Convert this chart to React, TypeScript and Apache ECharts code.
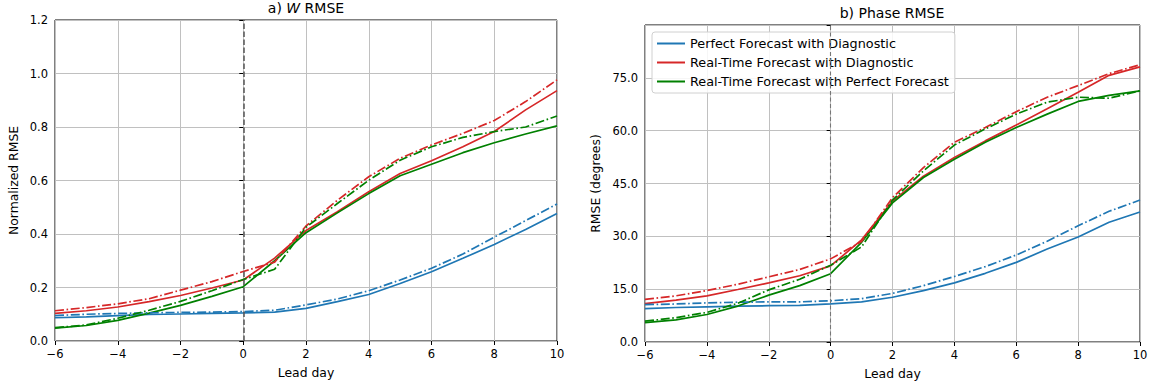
import React, { useEffect, useRef } from "react";
import * as echarts from "echarts";

const days = [-6, -5, -4, -3, -2, -1, 0, 1, 2, 3, 4, 5, 6, 7, 8, 9, 10];

const seriesNames = [
  "Perfect Forecast with Diagnostic",
  "Real-Time Forecast with Diagnostic",
  "Real-Time Forecast with Perfect Forecast",
];

// a) W RMSE (normalized)
const wBlueSolid = [0.087, 0.09, 0.095, 0.099, 0.101, 0.103, 0.105, 0.108, 0.122, 0.147, 0.174, 0.215, 0.259, 0.309, 0.361, 0.417, 0.477];
const wBlueDash = [0.095, 0.1, 0.103, 0.105, 0.107, 0.108, 0.11, 0.115, 0.135, 0.157, 0.188, 0.228, 0.272, 0.325, 0.388, 0.45, 0.512];
const wRedSolid = [0.103, 0.113, 0.127, 0.147, 0.17, 0.198, 0.228, 0.31, 0.413, 0.483, 0.558, 0.626, 0.674, 0.726, 0.783, 0.864, 0.936];
const wRedDash = [0.113, 0.125, 0.139, 0.158, 0.19, 0.222, 0.26, 0.295, 0.43, 0.526, 0.614, 0.683, 0.733, 0.776, 0.824, 0.895, 0.976];
const wGreenSolid = [0.048, 0.058, 0.077, 0.104, 0.133, 0.167, 0.203, 0.3, 0.405, 0.479, 0.551, 0.618, 0.661, 0.704, 0.741, 0.774, 0.804];
const wGreenDash = [0.05, 0.06, 0.085, 0.115, 0.148, 0.188, 0.23, 0.268, 0.425, 0.514, 0.601, 0.676, 0.726, 0.761, 0.783, 0.8, 0.841];

// b) Phase RMSE (degrees)
const pBlueSolid = [9.5, 9.8, 10.0, 10.2, 10.3, 10.4, 10.8, 11.4, 12.7, 14.6, 16.8, 19.5, 22.6, 26.4, 29.8, 34.0, 36.9];
const pBlueDash = [10.6, 10.8, 11.1, 11.3, 11.4, 11.4, 11.7, 12.3, 13.8, 16.0, 18.6, 21.4, 24.7, 28.6, 33.0, 37.1, 40.3];
const pRedSolid = [10.9, 11.9, 13.1, 14.9, 16.8, 18.8, 21.6, 29.0, 40.0, 47.1, 52.4, 57.1, 61.6, 66.2, 70.9, 75.7, 78.1];
const pRedDash = [12.1, 13.1, 14.6, 16.4, 18.5, 20.6, 23.6, 28.5, 41.0, 49.5, 56.7, 60.9, 65.4, 69.5, 72.8, 76.2, 78.7];
const pGreenSolid = [5.5, 6.3, 7.8, 10.2, 13.3, 16.0, 19.4, 28.3, 39.5, 46.7, 51.9, 56.7, 60.9, 64.7, 68.3, 70.0, 71.3];
const pGreenDash = [5.9, 6.9, 8.4, 11.0, 14.8, 17.8, 21.8, 27.0, 40.3, 48.6, 55.9, 60.5, 64.7, 68.1, 69.5, 69.2, 71.3];

const COLORS = ["#1f77b4", "#d62728", "#008000"];
const FONT = "DejaVu Sans";
const DASHDOT = [9, 2.6, 1.6, 2.6];
const TICK_FS = 11.5;
const LABEL_FS = 12.4;

function pairs(ys: number[]) {
  return days.map((d, i) => [d, ys[i]]);
}

function fmtX(v: number) {
  return v < 0 ? "\u2212" + Math.abs(v) : String(v);
}

export default function App() {
  const ref = useRef<HTMLDivElement>(null);

  useEffect(() => {
    if (!ref.current) return;
    const chart = echarts.init(ref.current, undefined, { renderer: "svg" });

    const mkLine = (
      name: string,
      ys: number[],
      color: string,
      dash: boolean,
      gi: number,
      withVLine: boolean
    ) => {
      const s: any = {
        type: "line",
        name,
        xAxisIndex: gi,
        yAxisIndex: gi,
        data: pairs(ys),
        symbol: "none",
        showSymbol: false,
        lineStyle: { color, width: 1.7, type: dash ? DASHDOT : "solid" },
        itemStyle: { color },
        z: dash ? 3 : 2,
      };
      if (withVLine) {
        s.markLine = {
          silent: true,
          symbol: ["none", "none"],
          label: { show: false },
          lineStyle: {
            color: gi === 0 ? "#555" : "#777",
            width: gi === 0 ? 1.5 : 1.1,
            type: gi === 0 ? [5.5, 2.5] : [4, 2.5],
          },
          data: [{ xAxis: 0 }],
        };
      }
      return s;
    };

    const xAxisBase = (gi: number) => ({
      type: "value",
      gridIndex: gi,
      min: -6,
      max: 10,
      interval: 2,
      name: "Lead day",
      nameLocation: "middle",
      nameGap: 25,
      nameTextStyle: { fontFamily: FONT, fontSize: LABEL_FS, color: "#000" },
      axisLine: { show: false },
      axisTick: { show: true, length: 4, lineStyle: { color: "#000", width: 1 } },
      axisLabel: {
        fontFamily: FONT,
        fontSize: TICK_FS,
        color: "#000",
        margin: 7,
        formatter: (v: number) => fmtX(v),
      },
      splitLine: { show: true, lineStyle: { color: "#c0c0c0", width: 1 } },
    });

    const option: any = {
      animation: false,
      textStyle: { fontFamily: FONT },
      grid: [
        { left: 55, right: 594, top: 20, bottom: 45, show: true, borderColor: "#000", borderWidth: 1, backgroundColor: "transparent" },
        { left: 645, right: 11, top: 25, bottom: 44, show: true, borderColor: "#000", borderWidth: 1, backgroundColor: "transparent" },
      ],
      xAxis: [xAxisBase(0), xAxisBase(1)],
      yAxis: [
        {
          type: "value",
          gridIndex: 0,
          min: 0,
          max: 1.2,
          interval: 0.2,
          name: "Normalized RMSE",
          nameLocation: "middle",
          nameGap: 36,
          nameTextStyle: { fontFamily: FONT, fontSize: LABEL_FS, color: "#000" },
          axisLine: { show: false },
          axisTick: { show: true, length: 4, lineStyle: { color: "#000", width: 1 } },
          axisLabel: { fontFamily: FONT, fontSize: TICK_FS, color: "#000", margin: 7, formatter: (v: number) => v.toFixed(1) },
          splitLine: { show: true, lineStyle: { color: "#c0c0c0", width: 1 } },
        },
        {
          type: "value",
          gridIndex: 1,
          min: 0,
          max: 90,
          interval: 15,
          name: "RMSE (degrees)",
          nameLocation: "middle",
          nameGap: 44,
          nameTextStyle: { fontFamily: FONT, fontSize: LABEL_FS, color: "#000" },
          axisLine: { show: false },
          axisTick: { show: true, length: 4, lineStyle: { color: "#000", width: 1 } },
          axisLabel: {
            fontFamily: FONT,
            fontSize: TICK_FS,
            color: "#000",
            margin: 7,
            formatter: (v: number) => (v >= 89 ? "" : v.toFixed(1)),
          },
          splitLine: { show: true, lineStyle: { color: "#c0c0c0", width: 1 } },
        },
      ],
      legend: {
        data: seriesNames,
        orient: "vertical",
        left: 652,
        top: 32,
        icon: "rect",
        itemWidth: 28,
        itemHeight: 2,
        itemGap: 4,
        padding: [4, 6, 4, 5],
        backgroundColor: "rgba(255,255,255,0.85)",
        borderColor: "#d0d0d0",
        borderWidth: 1,
        borderRadius: 3,
        textStyle: { fontFamily: FONT, fontSize: 12.8, color: "#000", lineHeight: 15 },
        selectedMode: false,
      },
      graphic: [
        {
          type: "text",
          x: 306,
          y: 8,
          style: {
            text: "{a|a) }{i|W}{a| RMSE}",
            align: "center",
            verticalAlign: "middle",
            rich: {
              a: { fontFamily: FONT, fontSize: 14, fill: "#000" },
              i: { fontFamily: FONT, fontSize: 14, fontStyle: "italic", fill: "#000" },
            },
          },
        },
        {
          type: "text",
          x: 892,
          y: 13,
          style: {
            text: "b) Phase RMSE",
            align: "center",
            verticalAlign: "middle",
            fontFamily: FONT,
            fontSize: 14,
            fill: "#000",
          },
        },
      ],
      series: [
        mkLine(seriesNames[0], wBlueSolid, COLORS[0], false, 0, true),
        mkLine(seriesNames[1], wRedSolid, COLORS[1], false, 0, false),
        mkLine(seriesNames[2], wGreenSolid, COLORS[2], false, 0, false),
        mkLine(seriesNames[0], wBlueDash, COLORS[0], true, 0, false),
        mkLine(seriesNames[1], wRedDash, COLORS[1], true, 0, false),
        mkLine(seriesNames[2], wGreenDash, COLORS[2], true, 0, false),
        mkLine(seriesNames[0], pBlueSolid, COLORS[0], false, 1, true),
        mkLine(seriesNames[1], pRedSolid, COLORS[1], false, 1, false),
        mkLine(seriesNames[2], pGreenSolid, COLORS[2], false, 1, false),
        mkLine(seriesNames[0], pBlueDash, COLORS[0], true, 1, false),
        mkLine(seriesNames[1], pRedDash, COLORS[1], true, 1, false),
        mkLine(seriesNames[2], pGreenDash, COLORS[2], true, 1, false),
      ],
    };

    chart.setOption(option);
    return () => chart.dispose();
  }, []);

  return (
    <div
      ref={ref}
      style={{ position: "absolute", left: 0, top: 0, width: 1151, height: 386, background: "#fff" }}
    />
  );
}
